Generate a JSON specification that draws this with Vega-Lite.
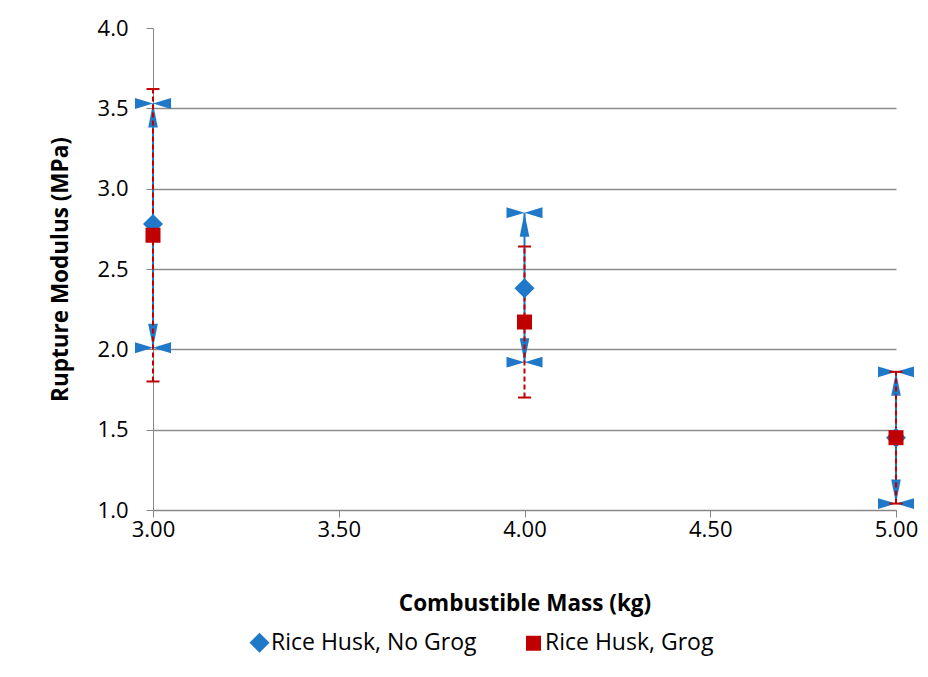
{
  "$schema": "https://vega.github.io/schema/vega-lite/v6.json",
  "width": 743,
  "height": 482,
  "autosize": {"type": "none"},
  "padding": {"left": 153, "top": 28, "right": 32, "bottom": 167},
  "background": "white",
  "config": {"font": "Open Sans", "view": {"stroke": null}},
  "data": {
    "values": [
      {"mass": 3, "series": "Rice Husk, No Grog", "mean": 2.78, "lo": 2.01, "hi": 3.53},
      {"mass": 4, "series": "Rice Husk, No Grog", "mean": 2.38, "lo": 1.92, "hi": 2.85},
      {"mass": 5, "series": "Rice Husk, No Grog", "mean": 1.45, "lo": 1.04, "hi": 1.86},
      {"mass": 3, "series": "Rice Husk, Grog", "mean": 2.71, "lo": 1.80, "hi": 3.62},
      {"mass": 4, "series": "Rice Husk, Grog", "mean": 2.17, "lo": 1.70, "hi": 2.64},
      {"mass": 5, "series": "Rice Husk, Grog", "mean": 1.45, "lo": 1.04, "hi": 1.86}
    ]
  },
  "encoding": {
    "x": {
      "field": "mass",
      "type": "quantitative",
      "scale": {"domain": [3, 5], "nice": false, "zero": false},
      "axis": {
        "title": "Combustible Mass (kg)",
        "values": [3, 3.5, 4, 4.5, 5],
        "format": ".2f",
        "grid": false,
        "labelFlush": false,
        "labelFontSize": 22,
        "labelColor": "#000000",
        "labelPadding": 2,
        "domainColor": "#868686",
        "tickColor": "#868686",
        "tickSize": 7,
        "titleFontSize": 22.5,
        "titleFontWeight": "bold",
        "titleColor": "#000000",
        "titlePadding": 52
      }
    }
  },
  "layer": [
    {
      "transform": [{"filter": "datum.series === 'Rice Husk, No Grog'"}],
      "mark": {"type": "rule", "color": "#1F78C8", "strokeWidth": 2},
      "encoding": {
        "y": {
          "field": "lo",
          "type": "quantitative",
          "scale": {"domain": [1, 4], "nice": false, "zero": false},
          "title": "Rupture Modulus (MPa)",
          "axis": {
            "title": "Rupture Modulus (MPa)",
            "values": [1, 1.5, 2, 2.5, 3, 3.5, 4],
            "format": ".1f",
            "grid": true,
            "gridColor": {"condition": {"test": "datum.value >= 3.99", "value": "transparent"}, "value": "#8C8C8C"},
            "gridWidth": 1.3,
            "labelFlush": false,
            "labelFontSize": 22,
            "labelColor": "#000000",
            "labelPadding": 18,
            "domainColor": "#868686",
            "tickColor": "#868686",
            "tickSize": 7,
            "titleFontSize": 22.5,
            "titleFontWeight": "bold",
            "titleColor": "#000000",
            "titlePadding": 25
          }
        },
        "y2": {"field": "hi"}
      }
    },
    {
      "transform": [{"filter": "datum.series === 'Rice Husk, No Grog'"}],
      "mark": {"type": "point", "filled": true, "color": "#1F78C8", "opacity": 1, "shape": "M0,-1L0.4,1L-0.4,1Z", "size": 576, "yOffset": 12},
      "encoding": {"y": {"field": "hi", "type": "quantitative", "title": "Rupture Modulus (MPa)"}}
    },
    {
      "transform": [{"filter": "datum.series === 'Rice Husk, No Grog'"}],
      "mark": {"type": "point", "filled": true, "color": "#1F78C8", "opacity": 1, "shape": "M0,1L0.4,-1L-0.4,-1Z", "size": 576, "yOffset": -12},
      "encoding": {"y": {"field": "lo", "type": "quantitative", "title": "Rupture Modulus (MPa)"}}
    },
    {
      "transform": [{"filter": "datum.series === 'Rice Husk, No Grog'"}],
      "mark": {"type": "point", "filled": true, "color": "#1F78C8", "opacity": 1, "shape": "M-1,-0.3L0,0L-1,0.3Z M1,-0.3L0,0L1,0.3Z", "size": 1296},
      "encoding": {"y": {"field": "hi", "type": "quantitative", "title": "Rupture Modulus (MPa)"}}
    },
    {
      "transform": [{"filter": "datum.series === 'Rice Husk, No Grog'"}],
      "mark": {"type": "point", "filled": true, "color": "#1F78C8", "opacity": 1, "shape": "M-1,-0.3L0,0L-1,0.3Z M1,-0.3L0,0L1,0.3Z", "size": 1296},
      "encoding": {"y": {"field": "lo", "type": "quantitative", "title": "Rupture Modulus (MPa)"}}
    },
    {
      "transform": [{"filter": "datum.series === 'Rice Husk, Grog'"}],
      "mark": {"type": "rule", "color": "#C00000", "strokeWidth": 2, "strokeDash": [5, 3]},
      "encoding": {
        "y": {"field": "lo", "type": "quantitative", "title": "Rupture Modulus (MPa)"},
        "y2": {"field": "hi"}
      }
    },
    {
      "transform": [{"filter": "datum.series === 'Rice Husk, Grog'"}],
      "mark": {"type": "tick", "orient": "horizontal", "color": "#C00000", "size": 13, "thickness": 2, "opacity": 1},
      "encoding": {"y": {"field": "hi", "type": "quantitative", "title": "Rupture Modulus (MPa)"}}
    },
    {
      "transform": [{"filter": "datum.series === 'Rice Husk, Grog'"}],
      "mark": {"type": "tick", "orient": "horizontal", "color": "#C00000", "size": 13, "thickness": 2, "opacity": 1},
      "encoding": {"y": {"field": "lo", "type": "quantitative", "title": "Rupture Modulus (MPa)"}}
    },
    {
      "mark": {"type": "point", "filled": true, "opacity": 1},
      "encoding": {
        "y": {"field": "mean", "type": "quantitative", "title": "Rupture Modulus (MPa)"},
        "color": {
          "field": "series",
          "type": "nominal",
          "scale": {"domain": ["Rice Husk, No Grog", "Rice Husk, Grog"], "range": ["#1F78C8", "#C00000"]},
          "legend": {
            "title": null,
            "orient": "none",
            "direction": "horizontal",
            "legendX": 95,
            "legendY": 603,
            "labelFontSize": 23,
            "labelColor": "#000000",
            "labelLimit": 400,
            "symbolSize": 170,
            "symbolOpacity": 1,
            "labelOffset": 0,
            "columnPadding": 45
          }
        },
        "shape": {
          "field": "series",
          "type": "nominal",
          "scale": {"domain": ["Rice Husk, No Grog", "Rice Husk, Grog"], "range": ["diamond", "square"]}
        },
        "size": {
          "field": "series",
          "type": "nominal",
          "scale": {"domain": ["Rice Husk, No Grog", "Rice Husk, Grog"], "range": [400, 225]},
          "legend": null
        },
        "order": {"field": "series", "sort": "descending"}
      }
    }
  ]
}
